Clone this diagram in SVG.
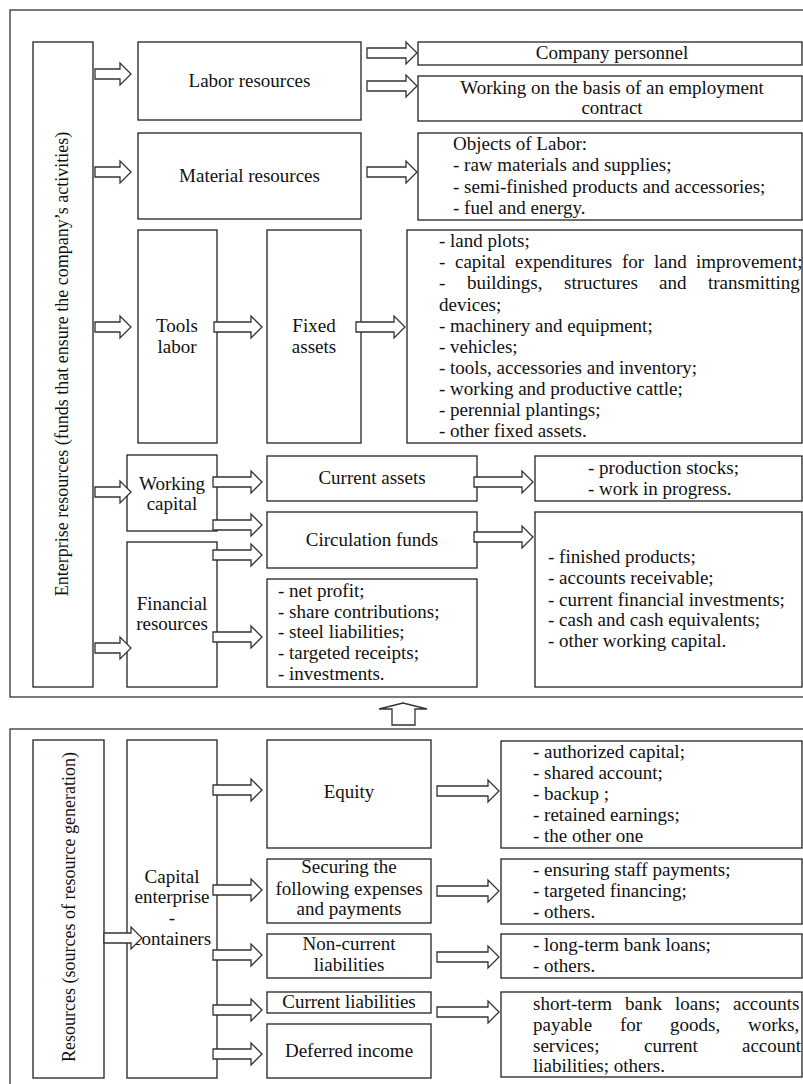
<svg xmlns="http://www.w3.org/2000/svg" width="803" height="1084" viewBox="0 0 803 1084">
<style>
.frame{fill:none;stroke:#333;stroke-width:1.3}
.box{fill:#fff;stroke:#222;stroke-width:1.3}
.t{font-family:"Liberation Serif","Times New Roman","DejaVu Serif",serif;font-size:19px;fill:#111}
.v{font-family:"Liberation Serif","Times New Roman","DejaVu Serif",serif;font-size:18px;fill:#111;text-anchor:middle}
.c{text-anchor:middle}
.ar{fill:#fff;stroke:#333;stroke-width:1.3;stroke-linejoin:miter}
</style>
<rect width="803" height="1084" fill="#fff"/>
<g id="frames">
<rect class="frame" x="10" y="10" width="800" height="687"/>
<rect class="frame" x="10" y="729" width="800" height="370"/>
</g>
<g id="enterprise-resources">
<rect class="box" x="33" y="42" width="60" height="645"/>
<text class="v" transform="translate(68,364) rotate(-90)">Enterprise resources (funds that ensure the company’s activities)</text>
</g>
<g id="labor-resources">
<rect class="box" x="138" y="42" width="223" height="78"/>
<text class="t c" x="249.5" y="87">Labor resources</text>
</g>
<g id="material-resources">
<rect class="box" x="138" y="133" width="223" height="86"/>
<text class="t c" x="249.5" y="182">Material resources</text>
</g>
<g id="company-personnel">
<rect class="box" x="418" y="42" width="384" height="23"/>
<text class="t c" x="612" y="59">Company personnel</text>
</g>
<g id="employment-contract">
<rect class="box" x="418" y="76" width="384" height="45"/>
<text class="t c" x="612" y="94">Working on the basis of an employment</text>
<text class="t c" x="612" y="114">contract</text>
</g>
<g id="objects-of-labor">
<rect class="box" x="418" y="133" width="384" height="87"/>
<text class="t" x="453" y="150">Objects of Labor:</text>
<text class="t" x="453" y="171">- raw materials and supplies;</text>
<text class="t" x="453" y="193">- semi-finished products and accessories;</text>
<text class="t" x="453" y="214">- fuel and energy.</text>
</g>
<g id="tools-labor">
<rect class="box" x="138" y="230" width="79" height="213"/>
<text class="t c" x="177" y="332">Tools</text>
<text class="t c" x="177" y="353">labor</text>
</g>
<g id="fixed-assets">
<rect class="box" x="267" y="230" width="94" height="213"/>
<text class="t c" x="314" y="332">Fixed</text>
<text class="t c" x="314" y="353">assets</text>
</g>
<g id="fixed-assets-list">
<rect class="box" x="407" y="230" width="395" height="213"/>
<text class="t" x="439" y="247">- land plots;</text>
<text class="t" y="268"><tspan x="439">-</tspan><tspan x="455">capital</tspan><tspan x="515">expenditures</tspan><tspan x="622">for</tspan><tspan x="654">land</tspan><tspan x="696">improvement;</tspan></text>
<text class="t" y="289"><tspan x="439">-</tspan><tspan x="467">buildings,</tspan><tspan x="564">structures</tspan><tspan x="659">and</tspan><tspan x="708">transmitting</tspan></text>
<text class="t" x="439" y="311">devices;</text>
<text class="t" x="439" y="332">- machinery and equipment;</text>
<text class="t" x="439" y="353">- vehicles;</text>
<text class="t" x="439" y="374">- tools, accessories and inventory;</text>
<text class="t" x="439" y="395">- working and productive cattle;</text>
<text class="t" x="439" y="416">- perennial plantings;</text>
<text class="t" x="439" y="437">- other fixed assets.</text>
</g>
<g id="working-capital">
<rect class="box" x="127" y="455" width="90" height="76"/>
<text class="t c" x="172" y="490">Working</text>
<text class="t c" x="172" y="510">capital</text>
</g>
<g id="financial-resources">
<rect class="box" x="127" y="542" width="90" height="145"/>
<text class="t c" x="172" y="610">Financial</text>
<text class="t c" x="172" y="630">resources</text>
</g>
<g id="current-assets">
<rect class="box" x="267" y="456" width="210" height="45"/>
<text class="t c" x="372" y="484">Current assets</text>
</g>
<g id="circulation-funds">
<rect class="box" x="267" y="512" width="210" height="56"/>
<text class="t c" x="372" y="546">Circulation funds</text>
</g>
<g id="financial-list">
<rect class="box" x="267" y="579" width="210" height="108"/>
<text class="t" x="278" y="597">- net profit;</text>
<text class="t" x="278" y="618">- share contributions;</text>
<text class="t" x="278" y="638">- steel liabilities;</text>
<text class="t" x="278" y="659">- targeted receipts;</text>
<text class="t" x="278" y="680">- investments.</text>
</g>
<g id="current-assets-list">
<rect class="box" x="535" y="456" width="267" height="45"/>
<text class="t" x="588" y="474">- production stocks;</text>
<text class="t" x="588" y="495">- work in progress.</text>
</g>
<g id="circulation-list">
<rect class="box" x="535" y="512" width="267" height="175"/>
<text class="t" x="548" y="563">- finished products;</text>
<text class="t" x="548" y="584">- accounts receivable;</text>
<text class="t" x="548" y="606">- current financial  investments;</text>
<text class="t" x="548" y="626">- cash and cash equivalents;</text>
<text class="t" x="548" y="647">- other working capital.</text>
</g>
<g id="resources-sources">
<rect class="box" x="33" y="740" width="71" height="338"/>
<text class="v" transform="translate(75,907) rotate(-90)">Resources (sources of resource generation)</text>
</g>
<g id="capital-enterprise">
<rect class="box" x="127" y="740" width="90" height="338"/>
<text class="t c" x="172" y="883">Capital</text>
<text class="t c" x="172" y="903">enterprise</text>
<text class="t c" x="172" y="924">-</text>
<text class="t c" x="172" y="945">containers</text>
</g>
<g id="equity">
<rect class="box" x="267" y="740" width="164" height="108"/>
<text class="t c" x="349" y="798">Equity</text>
</g>
<g id="securing">
<rect class="box" x="267" y="859" width="164" height="64"/>
<text class="t c" x="349" y="873">Securing the</text>
<text class="t c" x="349" y="895">following expenses</text>
<text class="t c" x="349" y="915">and payments</text>
</g>
<g id="non-current-liabilities">
<rect class="box" x="267" y="934" width="164" height="44"/>
<text class="t c" x="349" y="950">Non-current</text>
<text class="t c" x="349" y="971">liabilities</text>
</g>
<g id="current-liabilities">
<rect class="box" x="267" y="992" width="164" height="21"/>
<text class="t c" x="349" y="1008">Current liabilities</text>
</g>
<g id="deferred-income">
<rect class="box" x="267" y="1024" width="164" height="54"/>
<text class="t c" x="349" y="1057">Deferred income</text>
</g>
<g id="equity-list">
<rect class="box" x="501" y="741" width="301" height="107"/>
<text class="t" x="533" y="758">- authorized capital;</text>
<text class="t" x="533" y="779">- shared account;</text>
<text class="t" x="533" y="800">- backup ;</text>
<text class="t" x="533" y="821">- retained earnings;</text>
<text class="t" x="533" y="842">- the other one</text>
</g>
<g id="securing-list">
<rect class="box" x="501" y="859" width="301" height="65"/>
<text class="t" x="533" y="876">- ensuring staff payments;</text>
<text class="t" x="533" y="897">- targeted financing;</text>
<text class="t" x="533" y="918">- others.</text>
</g>
<g id="non-current-list">
<rect class="box" x="501" y="934" width="301" height="44"/>
<text class="t" x="533" y="951">- long-term bank loans;</text>
<text class="t" x="533" y="972">- others.</text>
</g>
<g id="current-liabilities-list">
<rect class="box" x="501" y="992" width="301" height="85"/>
<text class="t" y="1010"><tspan x="533">short-term</tspan><tspan x="625">bank</tspan><tspan x="675">loans;</tspan><tspan x="733">accounts</tspan></text>
<text class="t" y="1031"><tspan x="533">payable</tspan><tspan x="620">for</tspan><tspan x="670">goods,</tspan><tspan x="748">works,</tspan></text>
<text class="t" y="1052"><tspan x="533">services;</tspan><tspan x="644">current</tspan><tspan x="742">account</tspan></text>
<text class="t" x="533" y="1072">liabilities; others.</text>
</g>
<g id="connectors">
<path class="ar" d="M95 69 H120 V63 L131 74 L120 85 V79 H95 Z"/>
<path class="ar" d="M95 167 H120 V161 L131 172 L120 183 V177 H95 Z"/>
<path class="ar" d="M95 322 H120 V316 L131 327 L120 338 V332 H95 Z"/>
<path class="ar" d="M95 487 H120 V481 L131 492 L120 503 V497 H95 Z"/>
<path class="ar" d="M95 643 H120 V637 L131 648 L120 659 V653 H95 Z"/>
<path class="ar" d="M367 48 H406 V42 L417 53 L406 64 V58 H367 Z"/>
<path class="ar" d="M367 81 H406 V75 L417 86 L406 97 V91 H367 Z"/>
<path class="ar" d="M367 167 H406 V161 L417 172 L406 183 V177 H367 Z"/>
<path class="ar" d="M214 322 H251 V316 L262 327 L251 338 V332 H214 Z"/>
<path class="ar" d="M356 322 H394 V316 L405 327 L394 338 V332 H356 Z"/>
<path class="ar" d="M213 477 H251 V471 L262 482 L251 493 V487 H213 Z"/>
<path class="ar" d="M213 520 H251 V514 L262 525 L251 536 V530 H213 Z"/>
<path class="ar" d="M213 550 H251 V544 L262 555 L251 566 V560 H213 Z"/>
<path class="ar" d="M213 632 H251 V626 L262 637 L251 648 V642 H213 Z"/>
<path class="ar" d="M474 477 H522 V471 L533 482 L522 493 V487 H474 Z"/>
<path class="ar" d="M474 532 H522 V526 L533 537 L522 548 V542 H474 Z"/>
<path class="ar" d="M392 725 V709 H379 L403 703 L427 709 H415 V725 Z"/>
<path class="ar" d="M104 933 H131 V927 L142 938 L131 949 V943 H104 Z"/>
<path class="ar" d="M213 785 H251 V779 L262 790 L251 801 V795 H213 Z"/>
<path class="ar" d="M213 885 H251 V879 L262 890 L251 901 V895 H213 Z"/>
<path class="ar" d="M213 950 H251 V944 L262 955 L251 966 V960 H213 Z"/>
<path class="ar" d="M213 1005 H251 V999 L262 1010 L251 1021 V1015 H213 Z"/>
<path class="ar" d="M213 1049 H251 V1043 L262 1054 L251 1065 V1059 H213 Z"/>
<path class="ar" d="M437 786 H488 V780 L499 791 L488 802 V796 H437 Z"/>
<path class="ar" d="M437 886 H488 V880 L499 891 L488 902 V896 H437 Z"/>
<path class="ar" d="M437 952 H488 V946 L499 957 L488 968 V962 H437 Z"/>
<path class="ar" d="M437 1007 H488 V1001 L499 1012 L488 1023 V1017 H437 Z"/>
</g>
</svg>
